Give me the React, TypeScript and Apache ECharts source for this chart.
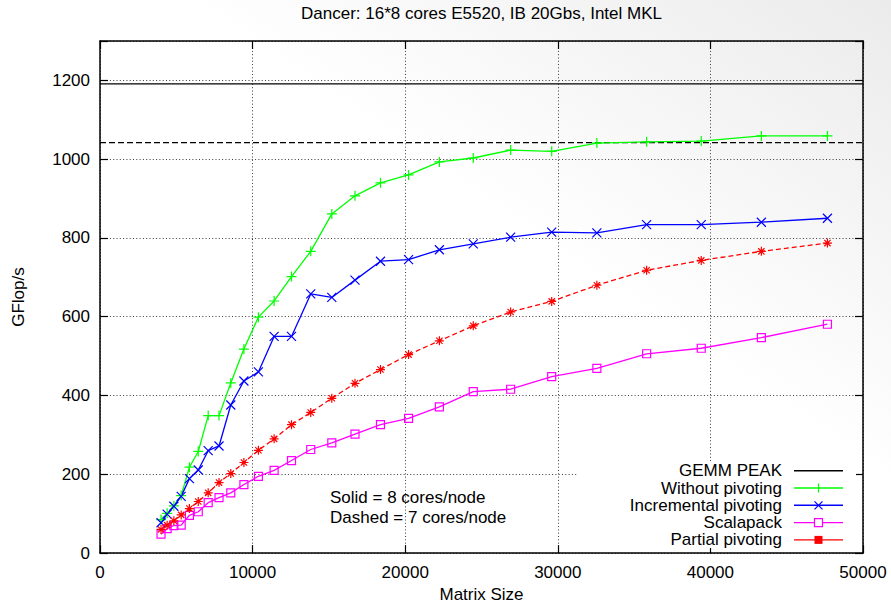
import React, { useEffect, useRef } from "react";
import * as echarts from "echarts";

const TITLE = "Dancer: 16*8 cores E5520, IB 20Gbs, Intel MKL";
const X_NAME = "Matrix Size";
const Y_NAME = "GFlop/s";

const MATRIX_SIZES = [4000, 4400, 4840, 5320, 5860, 6440, 7090, 7800, 8570, 9430, 10380, 11410, 12550, 13810, 15190, 16710, 18380, 20220, 22240, 24460, 26910, 29600, 32560, 35820, 39400, 43340, 47670];
const WITHOUT_PIVOTING = [85, 101, 120, 146, 218, 258, 349, 349, 432, 518, 599, 640, 702, 766, 861, 907, 940, 960, 993, 1003, 1023, 1020, 1041, 1044, 1046, 1059, 1059];
const INCREMENTAL_PIVOTING = [77, 99, 119, 144, 189, 211, 260, 272, 376, 437, 460, 550, 550, 658, 649, 693, 741, 745, 770, 785, 802, 815, 813, 834, 834, 840, 850];
const SCALAPACK = [48, 62, 70, 71, 96, 105, 128, 141, 153, 174, 195, 210, 235, 263, 280, 302, 326, 342, 371, 410, 416, 448, 469, 506, 520, 547, 581];
const PARTIAL_PIVOTING = [60, 71, 82, 97, 113, 131, 153, 179, 202, 230, 261, 290, 326, 357, 393, 431, 466, 504, 539, 577, 612, 639, 680, 718, 743, 766, 787];
const GEMM_PEAK_8 = 1191;
const GEMM_PEAK_7 = 1042;
const X_RANGE = [0, 50000];
const LEGEND_NAMES = ["GEMM PEAK", "Without pivoting", "Incremental pivoting", "Scalapack", "Partial pivoting"];
const NOTE_LINES = ["Solid = 8 cores/node", "Dashed = 7 cores/node"];

const FONT = "Liberation Sans, Arial, Helvetica, sans-serif";
const C_GREEN = "#00ff00";
const C_BLUE = "#0000ff";
const C_PINK = "#ff00ff";
const C_RED = "#ff0000";

const SYM_PLUS = "path://M5,0L5,10M0,5L10,5";
const SYM_CROSS = "path://M0,0L10,10M10,0L0,10";
const SYM_STAR = "path://M5,0L5,10M0,5L10,5M1.5,1.5L8.5,8.5M8.5,1.5L1.5,8.5";
const SYM_SQUARE = "path://M0,0L10,0L10,10L0,10Z";

const pairs = (vals: number[]) => MATRIX_SIZES.map((x, i) => [x, vals[i]]);

export default function App() {
  const ref = useRef<HTMLDivElement>(null);
  useEffect(() => {
    if (!ref.current) return;
    const chart = echarts.init(ref.current, null, { renderer: "svg" });

    const gridL = 100, gridR = 28, gridT = 41, gridB = 51.5;

    const legendTextRight = 782;
    const lineX1 = 794, lineX2 = 843;
    const markX = (lineX1 + lineX2) / 2;
    const rowY0 = 470.7, rowDy = 17.3;
    const legendColors = ["#000000", C_GREEN, C_BLUE, C_PINK, C_RED];
    const legendEls: any[] = [
      { type: "rect", z: 10, shape: { x: 577, y: 461, width: 279, height: 87 }, style: { fill: "#ffffff" } },
    ];
    LEGEND_NAMES.forEach((name, i) => {
      const y = rowY0 + i * rowDy;
      const c = legendColors[i];
      legendEls.push({
        type: "text", z: 11,
        style: { text: name, x: legendTextRight, y, textAlign: "right", textVerticalAlign: "middle", fontSize: 17, fontFamily: FONT, fill: "#000" },
      });
      legendEls.push({ type: "line", z: 11, shape: { x1: lineX1, y1: y, x2: lineX2, y2: y }, style: { stroke: c, lineWidth: 1.4 } });
      if (i === 1) {
        legendEls.push({ type: "line", z: 12, shape: { x1: markX, y1: y - 4.5, x2: markX, y2: y + 4.5 }, style: { stroke: c, lineWidth: 1.2 } });
      } else if (i === 2) {
        legendEls.push({ type: "line", z: 12, shape: { x1: markX - 4, y1: y - 4, x2: markX + 4, y2: y + 4 }, style: { stroke: c, lineWidth: 1.2 } });
        legendEls.push({ type: "line", z: 12, shape: { x1: markX - 4, y1: y + 4, x2: markX + 4, y2: y - 4 }, style: { stroke: c, lineWidth: 1.2 } });
      } else if (i === 3) {
        legendEls.push({ type: "rect", z: 12, shape: { x: markX - 4, y: y - 4, width: 8, height: 8 }, style: { fill: "#ffffff", stroke: c, lineWidth: 1.2 } });
      } else if (i === 4) {
        legendEls.push({ type: "rect", z: 12, shape: { x: markX - 4, y: y - 4, width: 8, height: 8 }, style: { fill: c } });
      }
    });
    NOTE_LINES.forEach((t, i) => {
      legendEls.push({
        type: "text", z: 11,
        style: { text: t, x: 330, y: 497.3 + i * 20, textAlign: "left", textVerticalAlign: "middle", fontSize: 17, fontFamily: FONT, fill: "#000" },
      });
    });

    const splitDotted = { show: true, lineStyle: { color: "#3a3a3a", width: 1, type: [1, 2.3] } };
    const axisLine = { show: true, onZero: false, lineStyle: { color: "#000", width: 1.5 } };
    const tickIn = { show: true, inside: true, length: 8, lineStyle: { color: "#000", width: 1.2 } };

    const lineSeries = (name: string, vals: number[], color: string, symbol: string, fill: string, dashed: boolean, size: number) => ({
      type: "line",
      name,
      data: pairs(vals),
      symbol,
      symbolSize: size,
      showSymbol: true,
      lineStyle: { color, width: 1.3, type: dashed ? [5, 3] : "solid" },
      itemStyle: { color: fill, borderColor: color, borderWidth: 1.2 },
      emphasis: { disabled: true },
      z: 3,
    });

    chart.setOption({
      animation: false,
      backgroundColor: {
        type: "linear", x: 0, y: 1, x2: 1, y2: 0,
        colorStops: [
          { offset: 0, color: "#ffffff" },
          { offset: 0.6, color: "#ffffff" },
          { offset: 1, color: "#ebebeb" },
        ],
      },
      title: {
        text: TITLE,
        left: 481.5,
        top: 5,
        padding: 0,
        textAlign: "center",
        textStyle: { fontSize: 17, fontWeight: "normal", color: "#000", fontFamily: FONT },
      },
      grid: { left: gridL, right: gridR, top: gridT, bottom: gridB, containLabel: false },
      xAxis: [
        {
          type: "value", min: X_RANGE[0], max: X_RANGE[1], interval: 10000, position: "bottom",
          name: X_NAME, nameLocation: "middle", nameGap: 32,
          nameTextStyle: { fontSize: 17, color: "#000", fontFamily: FONT },
          axisLine, axisTick: tickIn,
          axisLabel: { fontSize: 17, color: "#000", fontFamily: FONT, margin: 11, formatter: (v: number) => String(v) },
          splitLine: splitDotted,
        },
        {
          type: "value", min: X_RANGE[0], max: X_RANGE[1], interval: 10000, position: "top",
          axisLine, axisTick: tickIn, axisLabel: { show: false }, splitLine: { show: false },
        },
      ],
      yAxis: [
        {
          type: "value", min: 0, max: 1300, interval: 200, position: "left",
          name: Y_NAME, nameLocation: "middle", nameGap: 73, nameRotate: 90,
          nameTextStyle: { fontSize: 17, color: "#000", fontFamily: FONT },
          axisLine, axisTick: tickIn,
          axisLabel: { fontSize: 17, color: "#000", fontFamily: FONT, margin: 10, formatter: (v: number) => (v > 1200 ? "" : String(v)) },
          splitLine: splitDotted,
        },
        {
          type: "value", min: 0, max: 1300, interval: 200, position: "right",
          axisLine, axisTick: tickIn, axisLabel: { show: false }, splitLine: { show: false },
        },
      ],
      graphic: legendEls,
      series: [
        {
          type: "line", name: "GEMM PEAK", data: [[X_RANGE[0], GEMM_PEAK_8], [X_RANGE[1], GEMM_PEAK_8]],
          symbol: "none", lineStyle: { color: "#000", width: 1.3 }, emphasis: { disabled: true }, z: 3,
        },
        {
          type: "line", name: "GEMM PEAK (7 cores)", data: [[X_RANGE[0], GEMM_PEAK_7], [X_RANGE[1], GEMM_PEAK_7]],
          symbol: "none", lineStyle: { color: "#000", width: 1.3, type: [6, 3] }, emphasis: { disabled: true }, z: 3,
        },
        lineSeries("Without pivoting", WITHOUT_PIVOTING, C_GREEN, SYM_PLUS, C_GREEN, false, 10),
        lineSeries("Incremental pivoting", INCREMENTAL_PIVOTING, C_BLUE, SYM_CROSS, C_BLUE, false, 9),
        lineSeries("Scalapack", SCALAPACK, C_PINK, SYM_SQUARE, "rgba(0,0,0,0)", false, 8),
        lineSeries("Partial pivoting", PARTIAL_PIVOTING, C_RED, SYM_STAR, C_RED, true, 9),
      ],
    });
    return () => chart.dispose();
  }, []);
  return <div ref={ref} style={{ position: "absolute", left: 0, top: 0, width: 891, height: 608 }} />;
}
